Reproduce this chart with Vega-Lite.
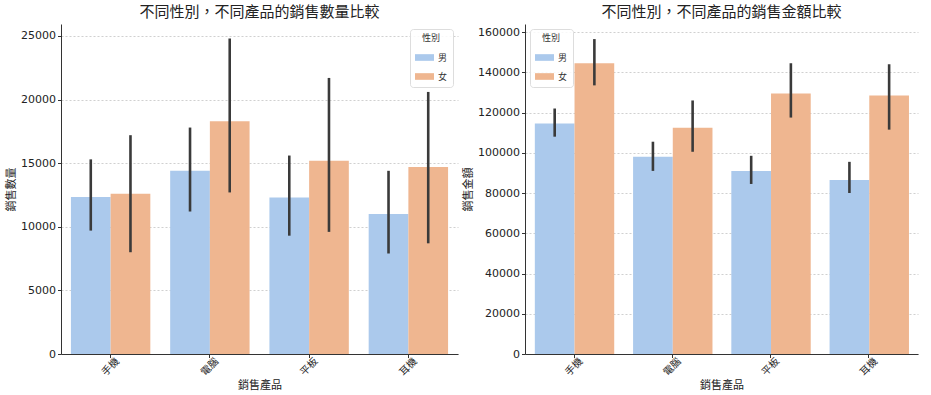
{
  "$schema": "https://vega.github.io/schema/vega-lite/v6.json",
  "background": "white",
  "padding": {"left": 5, "right": 5, "top": 5, "bottom": 2},
  "spacing": 4,
  "config": {
    "font": "DejaVu Sans",
    "view": {"stroke": null},
    "title": {"font": "Noto Sans CJK TC", "fontSize": 15, "fontWeight": "normal", "color": "#222222", "offset": 4},
    "axis": {
      "labelFont": "DejaVu Sans", "labelFontSize": 11, "labelColor": "#222222",
      "titleFont": "Noto Sans CJK TC", "titleFontSize": 11, "titleFontWeight": "normal", "titleColor": "#222222",
      "domainColor": "#333333", "tickColor": "#333333", "tickSize": 3.5, "labelPadding": 2, "titlePadding": 4
    },
    "axisY": {"grid": true, "gridColor": "#bbbbbb", "gridDash": [2, 2], "gridWidth": 0.7},
    "axisX": {"grid": false},
    "legend": {
      "titleFont": "Noto Sans CJK TC", "labelFont": "Noto Sans CJK TC", "titleFontSize": 9, "labelFontSize": 9,
      "titleFontWeight": "normal", "titleAnchor": "middle", "titleColor": "#333333", "labelColor": "#333333",
      "strokeColor": "#dddddd", "fillColor": "rgba(255,255,255,0.85)", "cornerRadius": 3, "padding": 5,
      "symbolType": "M-1,-0.35H1V0.35H-1Z", "symbolSize": 361, "symbolStrokeWidth": 0, "symbolOpacity": 1, "rowPadding": 4
    }
  },
  "data": {"values": [
    {"product": "手機", "gender": "男", "qty": 12340, "qlo": 9700, "qhi": 15300, "amt": 114500, "alo": 108000, "ahi": 122000},
    {"product": "手機", "gender": "女", "qty": 12600, "qlo": 8000, "qhi": 17200, "amt": 144500, "alo": 133500, "ahi": 156500},
    {"product": "電腦", "gender": "男", "qty": 14400, "qlo": 11200, "qhi": 17800, "amt": 98000, "alo": 91000, "ahi": 105500},
    {"product": "電腦", "gender": "女", "qty": 18300, "qlo": 12700, "qhi": 24800, "amt": 112500, "alo": 100500, "ahi": 126000},
    {"product": "平板", "gender": "男", "qty": 12300, "qlo": 9300, "qhi": 15600, "amt": 91000, "alo": 84500, "ahi": 98500},
    {"product": "平板", "gender": "女", "qty": 15200, "qlo": 9600, "qhi": 21700, "amt": 129500, "alo": 117500, "ahi": 144500},
    {"product": "耳機", "gender": "男", "qty": 11000, "qlo": 7900, "qhi": 14400, "amt": 86500, "alo": 80000, "ahi": 95500},
    {"product": "耳機", "gender": "女", "qty": 14700, "qlo": 8700, "qhi": 20600, "amt": 128500, "alo": 111500, "ahi": 144000}
  ]},
  "resolve": {"scale": {"color": "independent", "y": "independent", "x": "independent"}, "legend": {"color": "independent"}},
  "hconcat": [
    {
      "width": 397, "height": 330,
      "title": "不同性別，不同產品的銷售數量比較",
      "encoding": {
        "x": {"field": "product", "type": "nominal", "sort": null, "scale": {"paddingInner": 0.2, "paddingOuter": 0.1},
              "axis": {"title": "銷售產品", "labelAngle": -45, "labelFont": "Noto Sans CJK TC", "labelFontSize": 10, "labelAlign": "center", "labelBaseline": "middle", "labelPadding": 9, "titlePadding": 2}},
        "xOffset": {"field": "gender", "type": "nominal", "sort": ["男", "女"], "scale": {"paddingInner": 0, "paddingOuter": 0}}
      },
      "layer": [
        {
          "mark": {"type": "bar"},
          "encoding": {
            "y": {"field": "qty", "type": "quantitative", "scale": {"domain": [0, 25940], "nice": false},
                  "axis": {"title": "銷售數量", "values": [0, 5000, 10000, 15000, 20000, 25000], "format": "d"}},
            "color": {"field": "gender", "type": "nominal", "sort": ["男", "女"],
                      "scale": {"domain": ["男", "女"], "range": ["#abc9ec", "#efb690"]},
                      "legend": {"title": "性別", "orient": "top-right", "offset": 5}}
          }
        },
        {
          "mark": {"type": "rule", "color": "#3a3a3a", "strokeWidth": 2.6},
          "encoding": {"y": {"field": "qlo", "type": "quantitative"}, "y2": {"field": "qhi"}}
        }
      ]
    },
    {
      "width": 393, "height": 330,
      "title": "不同性別，不同產品的銷售金額比較",
      "encoding": {
        "x": {"field": "product", "type": "nominal", "sort": null, "scale": {"paddingInner": 0.2, "paddingOuter": 0.1},
              "axis": {"title": "銷售產品", "labelAngle": -45, "labelFont": "Noto Sans CJK TC", "labelFontSize": 10, "labelAlign": "center", "labelBaseline": "middle", "labelPadding": 9, "titlePadding": 2}},
        "xOffset": {"field": "gender", "type": "nominal", "sort": ["男", "女"], "scale": {"paddingInner": 0, "paddingOuter": 0}}
      },
      "layer": [
        {
          "mark": {"type": "bar"},
          "encoding": {
            "y": {"field": "amt", "type": "quantitative", "scale": {"domain": [0, 164000], "nice": false},
                  "axis": {"title": "銷售金額", "values": [0, 20000, 40000, 60000, 80000, 100000, 120000, 140000, 160000], "format": "d"}},
            "color": {"field": "gender", "type": "nominal", "sort": ["男", "女"],
                      "scale": {"domain": ["男", "女"], "range": ["#abc9ec", "#efb690"]},
                      "legend": {"title": "性別", "orient": "top-left", "offset": 5}}
          }
        },
        {
          "mark": {"type": "rule", "color": "#3a3a3a", "strokeWidth": 2.6},
          "encoding": {"y": {"field": "alo", "type": "quantitative"}, "y2": {"field": "ahi"}}
        }
      ]
    }
  ]
}
